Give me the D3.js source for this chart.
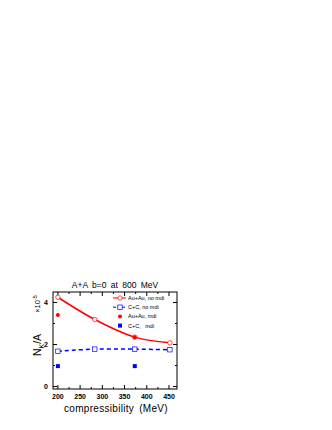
<!DOCTYPE html>
<html>
<head>
<meta charset="utf-8">
<script src="https://cdn.jsdelivr.net/npm/d3@7"></script>
<style>
    body { margin: 0; background: #fff; }
    text { font-family: "Liberation Sans", Arial, sans-serif; }
</style>
</head>
<body>
<div id="chart"></div>
<script>
// Data (kaon yield per nucleon, units of 1e-5)
var compressibility = [200, 283, 373, 452];
var auNoMdi = [4.25, 3.19, 2.35, 2.08];
var cNoMdi = [1.68, 1.78, 1.78, 1.75];
var auMdiX = [200, 373];
var auMdi = [3.41, 2.35];
var cMdiX = [200, 373];
var cMdi = [0.97, 0.97];
var xTicks = [200, 250, 300, 350, 400, 450];
var yTicks = [0, 2, 4];
var legendLabels = ["Au+Au, no mdi", "C+C, no mdi", "Au+Au, mdi", "C+C,   mdi"];

// SVG size
var W = 332, H = 430;
var margin = {top: 292, left: 53, right: 155, bottom: 41};
var width = W - margin.left - margin.right,
    height = H - margin.top - margin.bottom;

var svg = d3.select("#chart").append("svg")
    .attr("width", W)
    .attr("height", H);

var g = svg.append("g")
    .attr("transform", "translate(" + margin.left + "," + margin.top + ")");

var x = d3.scaleLinear().domain([189, 468]).range([0, width]);
var y = d3.scaleLinear().domain([-0.12, 4.5]).range([height, 0]);

// frame
g.append("rect")
    .attr("width", width)
    .attr("height", height)
    .attr("fill", "none")
    .attr("stroke", "#000")
    .attr("stroke-width", 1);

// ticks pointing inwards on all four sides
function ticksX(vals, len) {
    vals.forEach(function(v) {
        g.append("line").attr("x1", x(v)).attr("x2", x(v))
            .attr("y1", height).attr("y2", height - len).attr("stroke", "#000");
        g.append("line").attr("x1", x(v)).attr("x2", x(v))
            .attr("y1", 0).attr("y2", len).attr("stroke", "#000");
    });
}
function ticksY(vals, len) {
    vals.forEach(function(v) {
        g.append("line").attr("y1", y(v)).attr("y2", y(v))
            .attr("x1", 0).attr("x2", len).attr("stroke", "#000");
        g.append("line").attr("y1", y(v)).attr("y2", y(v))
            .attr("x1", width).attr("x2", width - len).attr("stroke", "#000");
    });
}
ticksX(xTicks, 4);
ticksX(d3.range(225, 468, 50), 2);
ticksY(yTicks, 4);
ticksY([1, 3], 2);

// tick labels
g.selectAll(".xl").data(xTicks).enter().append("text")
    .attr("x", function(d) { return x(d); })
    .attr("y", height + 10)
    .attr("text-anchor", "middle")
    .attr("font-size", 7)
    .attr("font-weight", "bold")
    .text(function(d) { return d; });

g.selectAll(".yl").data(yTicks).enter().append("text")
    .attr("x", -5)
    .attr("y", function(d) { return y(d) + 2.5; })
    .attr("text-anchor", "end")
    .attr("font-size", 7)
    .attr("font-weight", "bold")
    .text(function(d) { return d; });

// titles
svg.append("text")
    .attr("x", margin.left + width / 2)
    .attr("y", margin.top - 4)
    .attr("text-anchor", "middle")
    .attr("font-size", 8.5)
    .attr("word-spacing", 2)
    .text("A+A  b=0  at  800  MeV");

svg.append("text")
    .attr("x", margin.left + width / 2 + 1)
    .attr("y", margin.top + height + 23)
    .attr("text-anchor", "middle")
    .attr("font-size", 10)
    .attr("letter-spacing", 0.3)
    .attr("word-spacing", 2)
    .text("compressibility  (MeV)");

var yl = svg.append("text")
    .attr("transform", "translate(41,345) rotate(-90)")
    .attr("text-anchor", "middle")
    .attr("font-size", 10.5);
yl.append("tspan").text("N");
yl.append("tspan").attr("font-size", 7).attr("dy", 2.5).text("K");
yl.append("tspan").attr("dy", -2.5).text("/A");

var ex = svg.append("text")
    .attr("transform", "translate(40,304) rotate(-90)")
    .attr("text-anchor", "middle")
    .attr("font-size", 7.5);
ex.append("tspan").text("\u00d710");
ex.append("tspan").attr("font-size", 5.5).attr("dy", -3).text("-5");

// curves
var line = d3.line()
    .x(function(d) { return x(d[0]); })
    .y(function(d) { return y(d[1]); })
    .curve(d3.curveCatmullRom.alpha(0.5));

g.append("path")
    .datum(d3.zip(compressibility, auNoMdi))
    .attr("d", line)
    .attr("fill", "none")
    .attr("stroke", "#ff0000")
    .attr("stroke-width", 1.5);

g.append("path")
    .datum(d3.zip(compressibility, cNoMdi))
    .attr("d", line)
    .attr("fill", "none")
    .attr("stroke", "#0000ff")
    .attr("stroke-width", 1.5)
    .attr("stroke-dasharray", "4,3");

// markers
g.selectAll(".oc").data(d3.zip(compressibility, auNoMdi)).enter().append("circle")
    .attr("cx", function(d) { return x(d[0]); })
    .attr("cy", function(d) { return y(d[1]); })
    .attr("r", 2.2)
    .attr("fill", "#fff")
    .attr("stroke", "#ff0000")
    .attr("stroke-width", 0.7);

g.selectAll(".os").data(d3.zip(compressibility, cNoMdi)).enter().append("rect")
    .attr("x", function(d) { return x(d[0]) - 2.2; })
    .attr("y", function(d) { return y(d[1]) - 2.2; })
    .attr("width", 4.4).attr("height", 4.4)
    .attr("fill", "#fff")
    .attr("stroke", "#0000ff")
    .attr("stroke-width", 0.7);

g.selectAll(".fc").data(d3.zip(auMdiX, auMdi)).enter().append("circle")
    .attr("cx", function(d) { return x(d[0]); })
    .attr("cy", function(d) { return y(d[1]); })
    .attr("r", 2)
    .attr("fill", "#ff0000");

g.selectAll(".fs").data(d3.zip(cMdiX, cMdi)).enter().append("rect")
    .attr("x", function(d) { return x(d[0]) - 2; })
    .attr("y", function(d) { return y(d[1]) - 2; })
    .attr("width", 4).attr("height", 4)
    .attr("fill", "#0000ff");

// legend
var leg = svg.append("g").attr("transform", "translate(113,298)");
legendLabels.forEach(function(lbl, i) {
    var row = leg.append("g").attr("transform", "translate(0," + (i * 9.2) + ")");
    if (i == 0) {
        row.append("line").attr("x1", 0).attr("x2", 13).attr("stroke", "#ff0000").attr("stroke-width", 1);
        row.append("circle").attr("cx", 7).attr("r", 2.2).attr("fill", "#fff").attr("stroke", "#ff0000").attr("stroke-width", 0.7);
    } else if (i == 1) {
        row.append("line").attr("x1", 0).attr("x2", 13).attr("stroke", "#0000ff").attr("stroke-width", 1).attr("stroke-dasharray", "3,1.5");
        row.append("rect").attr("x", 4.8).attr("y", -2.2).attr("width", 4.4).attr("height", 4.4).attr("fill", "#fff").attr("stroke", "#0000ff").attr("stroke-width", 0.7);
    } else if (i == 2) {
        row.append("circle").attr("cx", 7).attr("r", 2).attr("fill", "#ff0000");
    } else {
        row.append("rect").attr("x", 5).attr("y", -2).attr("width", 4).attr("height", 4).attr("fill", "#0000ff");
    }
    row.append("text")
        .attr("x", 15)
        .attr("y", 2)
        .attr("font-size", 5.5)
        .style("white-space", "pre")
        .text(lbl);
});
</script>
</body>
</html>
